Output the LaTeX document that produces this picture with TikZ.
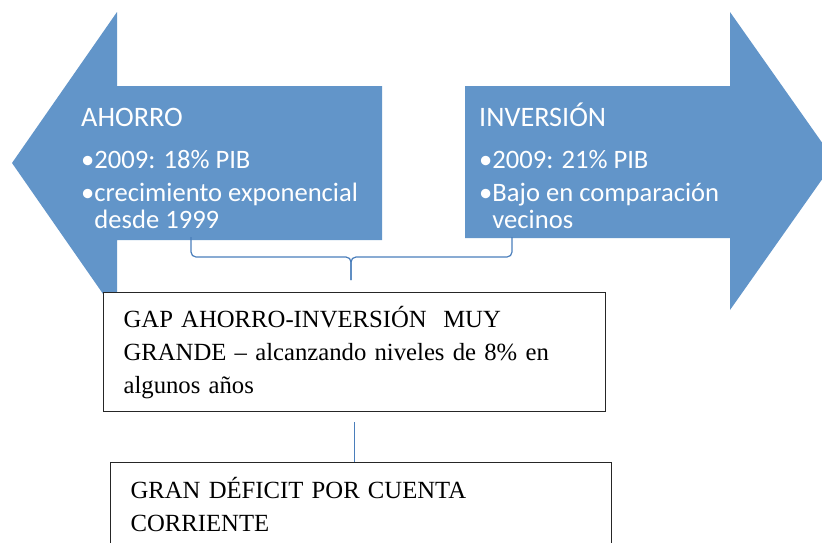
\documentclass[tikz,border=0pt]{standalone}
\usepackage{fontspec}
\setmainfont{Liberation Serif}
\newfontfamily\calibri{Carlito}
\usetikzlibrary{calc}
\definecolor{arrowblue}{RGB}{98,149,201}
\definecolor{lineblue}{RGB}{74,126,187}
\newcommand{\arrowtitle}[1]{{\fontsize{28.2}{27}\selectfont #1}}
\tikzstyle{bigarrow} = [fill=arrowblue, draw=none]
\tikzstyle{arrowtext} = [text=white, font=\calibri\fontsize{26.6}{27}\selectfont, align=left, anchor=base west, inner sep=0pt]
\tikzstyle{textbox} = [rectangle, draw=black!85, fill=white, line width=1.2pt, anchor=north west, align=left, inner xsep=20pt, font=\fontsize{24.7}{33}\selectfont]
\tikzstyle{link} = [draw=lineblue, line width=1.2pt]

\begin{document}
\begin{tikzpicture}[x=1pt, y=-1pt]
  \clip (0,0) rectangle (822,542);
  % the two big arrows
  \fill[bigarrow] (12,163) -- (117,12) -- (117,86) -- (382,86) -- (382,240) -- (117,240) -- (117,314) -- cycle;
  \fill[bigarrow] (835,161) -- (730,12) -- (730,86) -- (465,86) -- (465,238) -- (730,238) -- (730,310) -- cycle;
  % text sits on the baseline of its last line
  \node (ahorro) [arrowtext] at (81,228) {\arrowtitle{AHORRO}\\[15pt]%
    •2009: 18\% PIB\\[6pt]%
    •crecimiento exponencial\\
    \hphantom{•}desde 1999};
  \node (inversion) [arrowtext] at (479,228) {\arrowtitle{INVERSIÓN}\\[15pt]%
    •2009: 21\% PIB\\[6pt]%
    •Bajo en comparación\\
    \hphantom{•}vecinos};
  % boxes
  \node (gap) [textbox, minimum width=502pt, minimum height=119pt, text width=462pt] at (103,292)
    {GAP AHORRO-INVERSIÓN~ MUY\\GRANDE – alcanzando niveles de 8\% en\\algunos años};
  \node (deficit) [textbox, minimum width=501pt, minimum height=84pt, text width=461pt] at (110,462)
    {GRAN DÉFICIT POR CUENTA\\CORRIENTE};
  % brace
  \coordinate (braceL) at (191,237);
  \coordinate (braceR) at (512,237);
  \coordinate (braceM) at (351,257);
  \coordinate (braceTip) at (351,280);
  \draw[link, rounded corners=5pt] (braceL) |- (braceM) -- (braceTip);
  \draw[link, rounded corners=5pt] (braceR) |- (braceM) -- (braceTip);
  \draw[link] ([yshift=-10pt]gap.south) -- (gap.south |- deficit.north);
\end{tikzpicture}
\end{document}
